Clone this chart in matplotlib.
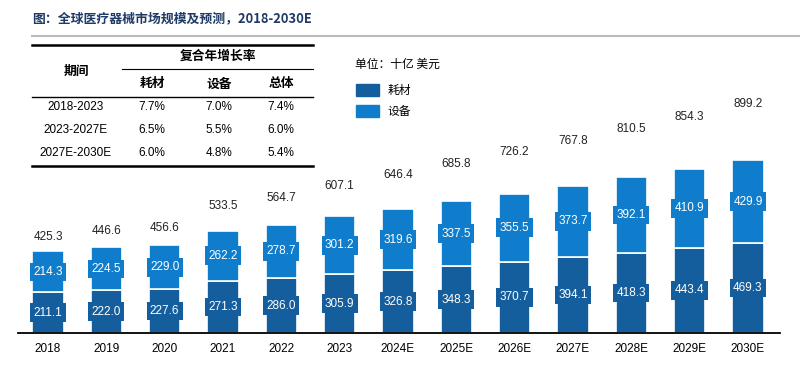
import matplotlib
matplotlib.use("Agg")
import matplotlib.pyplot as plt
from matplotlib.patches import Rectangle
from matplotlib.lines import Line2D

plt.rcParams['font.family'] = ['Liberation Sans', 'Noto Sans CJK SC', 'DejaVu Sans']

years = ['2018', '2019', '2020', '2021', '2022', '2023', '2024E', '2025E',
         '2026E', '2027E', '2028E', '2029E', '2030E']
consumables = [211.1, 222.0, 227.6, 271.3, 286.0, 305.9, 326.8, 348.3,
               370.7, 394.1, 418.3, 443.4, 469.3]
equipment = [214.3, 224.5, 229.0, 262.2, 278.7, 301.2, 319.6, 337.5,
             355.5, 373.7, 392.1, 410.9, 429.9]
totals = [425.3, 446.6, 456.6, 533.5, 564.7, 607.1, 646.4, 685.8,
          726.2, 767.8, 810.5, 854.3, 899.2]

periods = ['2018-2023', '2023-2027E', '2027E-2030E']
cagr_cons = ['7.7%', '6.5%', '6.0%']
cagr_equip = ['7.0%', '5.5%', '4.8%']
cagr_total = ['7.4%', '6.0%', '5.4%']

dark = '#155E9D'
light = '#0F7DCB'
title_c = '#1F3A66'

W, H = 800, 366
fig = plt.figure(figsize=(8, 3.66), dpi=100)

def fx(px):
    return px / W

def fy(py):
    return 1 - py / H

# main axes: baseline y=333, x from 18 to 780
ax = fig.add_axes([fx(18), fy(333), fx(780 - 18), (333 - 63) / H])
ax.set_xlim(-0.514, 12.55)
ax.set_ylim(0, 270 / 0.192)
x = list(range(len(years)))
ax.bar(x, consumables, width=0.54, color=dark, edgecolor='white', linewidth=1.2)
ax.bar(x, equipment, width=0.54, bottom=consumables, color=light,
       edgecolor='white', linewidth=1.2)
for i in x:
    ax.text(i, consumables[i] / 2, f'{consumables[i]:.1f}', ha='center', va='center',
            color='white', fontsize=8.5,
            bbox=dict(boxstyle='square,pad=0.28', fc=dark, ec='none'))
    ax.text(i, consumables[i] + equipment[i] / 2, f'{equipment[i]:.1f}', ha='center',
            va='center', color='white', fontsize=8.5,
            bbox=dict(boxstyle='square,pad=0.28', fc=light, ec='none'))
for s in ['top', 'right', 'left']:
    ax.spines[s].set_visible(False)
ax.spines['bottom'].set_linewidth(1.3)
ax.set_yticks([])
ax.set_xticks(x)
ax.set_xticklabels(years, fontsize=8.5, color='black')
ax.tick_params(axis='x', length=0, pad=7)
ax.patch.set_alpha(0)

# totals on a secondary scale
ax2 = ax.twinx()
ax2.set_ylim(80.8, 1046)
ax2.set_xlim(ax.get_xlim())
for i in x:
    ax2.text(i, totals[i], f'{totals[i]:.1f}', ha='center', va='center',
             fontsize=8.5, color='#222222')
ax2.axis('off')

# title
fig.text(fx(32), fy(18), '图：全球医疗器械市场规模及预测，2018-2030E',
         fontsize=9.3, fontweight='bold', color=title_c, va='center',
         family=['Noto Sans CJK SC', 'DejaVu Sans'])
fig.add_artist(Line2D([fx(32), fx(800)], [fy(36), fy(36)], color='#BBBBBB', lw=1.5))

# table
cjk = ['Noto Sans CJK SC', 'DejaVu Sans']
def hline(x0, x1, y, lw):
    fig.add_artist(Line2D([fx(x0), fx(x1)], [fy(y), fy(y)], color='black', lw=lw))

hline(32, 313, 44.5, 1.8)
hline(122, 313, 69, 0.8)
hline(32, 313, 97, 1.0)
hline(32, 313, 166, 1.8)
fig.text(fx(218), fy(56), '复合年增长率', ha='center', va='center', fontsize=9.2,
         fontweight='bold', family=cjk)
fig.text(fx(76), fy(71), '期间', ha='center', va='center', fontsize=9.2,
         fontweight='bold', family=cjk)
for cx, lab in zip([152, 219, 281], ['耗材', '设备', '总体']):
    fig.text(fx(cx), fy(84), lab, ha='center', va='center', fontsize=9.2,
             fontweight='bold', family=cjk)
for r, yy in enumerate([107, 130, 153]):
    fig.text(fx(76), fy(yy), periods[r], ha='center', va='center', fontsize=8.5)
    fig.text(fx(152), fy(yy), cagr_cons[r], ha='center', va='center', fontsize=8.5)
    fig.text(fx(219), fy(yy), cagr_equip[r], ha='center', va='center', fontsize=8.5)
    fig.text(fx(281), fy(yy), cagr_total[r], ha='center', va='center', fontsize=8.5)

# legend
fig.text(fx(355), fy(64), '单位：十亿 美元', va='center', fontsize=8.5, family=cjk)
fig.add_artist(Rectangle((fx(356), fy(96)), fx(23), 12 / H, color=dark,
                         transform=fig.transFigure))
fig.add_artist(Rectangle((fx(356), fy(117)), fx(23), 12 / H, color=light,
                         transform=fig.transFigure))
fig.text(fx(388), fy(90), '耗材', va='center', fontsize=8.5, family=cjk)
fig.text(fx(388), fy(111), '设备', va='center', fontsize=8.5, family=cjk)

fig.savefig('out.png', dpi=100)
